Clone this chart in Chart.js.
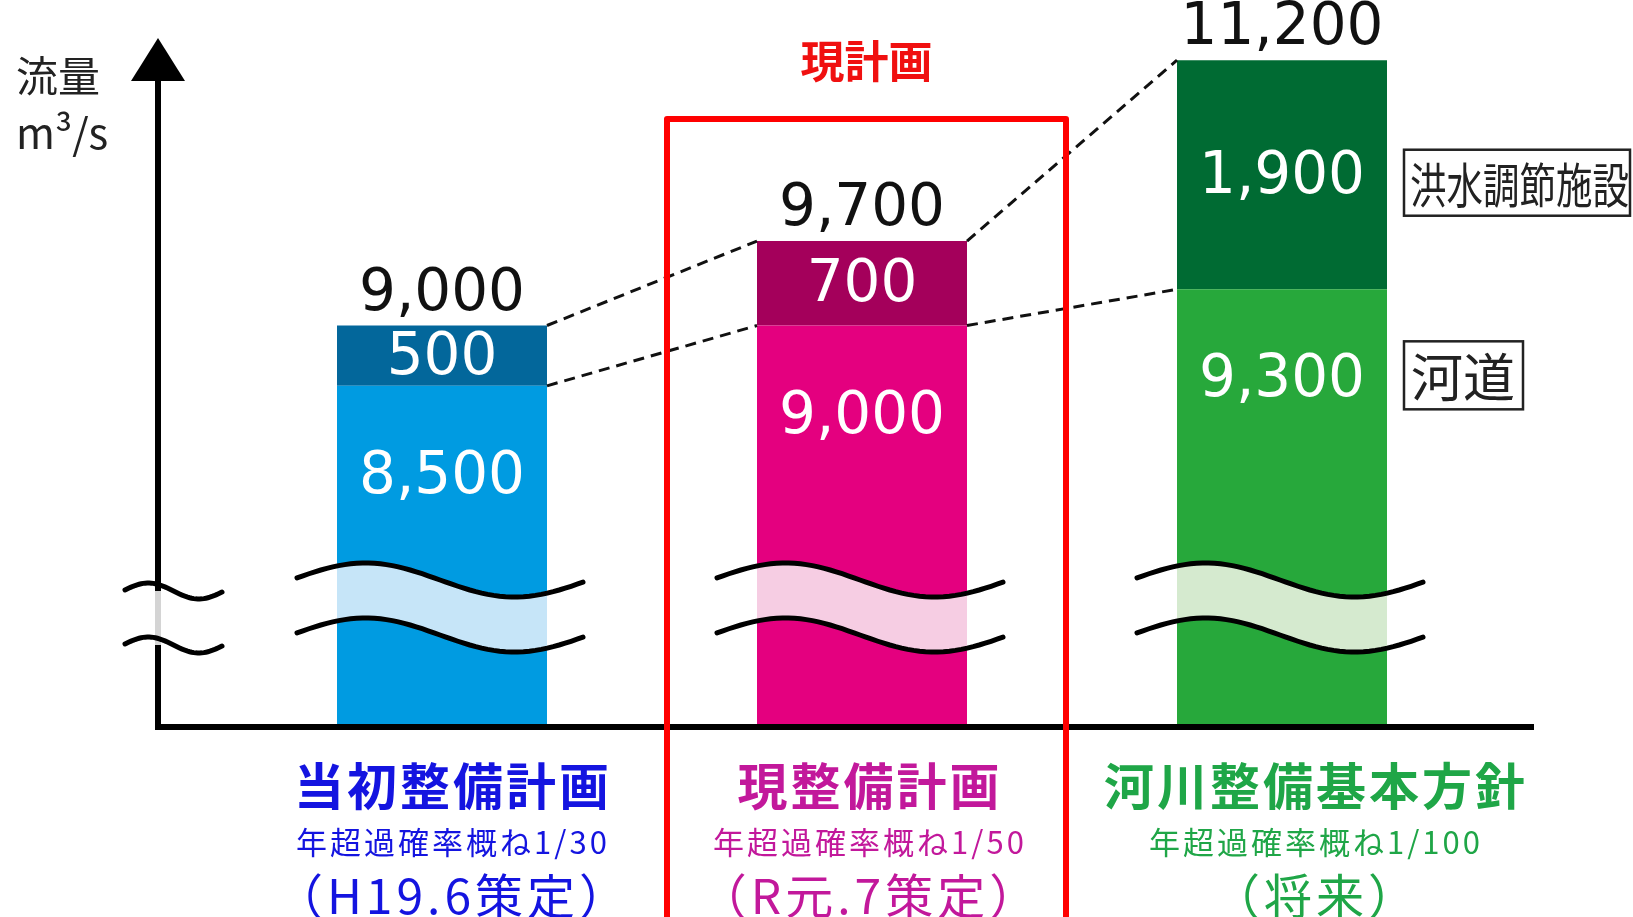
<!DOCTYPE html>
<html lang="ja">
<head>
<meta charset="utf-8">
<title>流量配分図</title>
<script src="https://cdn.jsdelivr.net/npm/chart.js@4.4.0/dist/chart.umd.min.js"></script>
<style>
    html, body { margin: 0; padding: 0; background: #fff; }
    #wrap { width: 1633px; height: 917px; }
</style>
</head>
<body>
<div id="wrap"><canvas id="grafico" width="1633" height="917"></canvas></div>
<script>
// 横軸の区分
const plans = ['当初整備計画', '現整備計画', '河川整備基本方針'];
const probTexts = ['年超過確率概ね1/30', '年超過確率概ね1/50', '年超過確率概ね1/100'];
const dateTexts = ['（H19.6策定）', '（R元.7策定）', '（将来）'];

// 流量 (m3/s)
const channelFlow = [8500, 9000, 9300];   // 河道
const facilityFlow = [500, 700, 1900];    // 洪水調節施設

// 縦軸の範囲 (下側は波線で省略)
const yMin = 5680;
const yMax = 11400;

// 色
const channelColors = ['#009be1', '#e4007f', '#27a83b'];
const facilityColors = ['#03679b', '#a4005b', '#006b33'];
const breakColors = ['#c6e5f8', '#f6cde3', '#d5eacf'];
const planColors = ['#1414e0', '#c2189b', '#1fa647'];
const labelShift = [11, 8, 34];

const numFont = '58px "DejaVu Sans"';
const jpFont = '"Noto Sans CJK JP"';

function fmt(v) {
    return v.toLocaleString('en-US');
}

// 波線の点列
function wavePts(x0, x1, mid, amp) {
    var pts = [];
    for (var k = 0; k <= 48; k++) {
        var t = k / 48;
        pts.push([x0 + (x1 - x0) * t, mid - amp * Math.sin(2 * Math.PI * (0.02 + 0.96 * t))]);
    }
    return pts;
}

function strokePts(ctx, pts) {
    ctx.beginPath();
    pts.forEach((p, k) => k == 0 ? ctx.moveTo(p[0], p[1]) : ctx.lineTo(p[0], p[1]));
    ctx.stroke();
}

function line(ctx, x0, y0, x1, y1) {
    ctx.beginPath();
    ctx.moveTo(x0, y0);
    ctx.lineTo(x1, y1);
    ctx.stroke();
}

const decoPlugin = {
    id: 'deco',
    beforeDraw(chart) {
        const ctx = chart.ctx;
        ctx.save();
        ctx.fillStyle = '#fff';
        ctx.fillRect(0, 0, chart.width, chart.height);
        ctx.restore();
    },
    afterDatasetsDraw(chart) {
        const ctx = chart.ctx;
        const area = chart.chartArea;
        const low = chart.getDatasetMeta(0).data;
        const up = chart.getDatasetMeta(1).data;
        const axisX = area.left - 74;

        ctx.save();

        // 棒の省略部分
        low.forEach((bar, i) => {
            const p1 = wavePts(bar.x - 145, bar.x + 141, area.bottom - 146, 17);
            const p2 = wavePts(bar.x - 145, bar.x + 141, area.bottom - 91, 17);
            ctx.save();
            ctx.beginPath();
            ctx.rect(bar.x - bar.width / 2, area.top, bar.width, area.bottom - area.top);
            ctx.clip();
            ctx.beginPath();
            p1.forEach((p, k) => k == 0 ? ctx.moveTo(p[0], p[1]) : ctx.lineTo(p[0], p[1]));
            p2.slice().reverse().forEach(p => ctx.lineTo(p[0], p[1]));
            ctx.closePath();
            ctx.fillStyle = breakColors[i];
            ctx.fill();
            ctx.restore();

            ctx.strokeStyle = '#000';
            ctx.lineWidth = 5;
            ctx.lineCap = 'round';
            strokePts(ctx, p1);
            strokePts(ctx, p2);
        });

        // 棒をつなぐ点線
        ctx.strokeStyle = '#111';
        ctx.lineWidth = 3;
        ctx.lineCap = 'butt';
        ctx.setLineDash([11, 7]);
        for (var i = 0; i < up.length - 1; i++) {
            const a = up[i], b = up[i + 1];
            line(ctx, a.x + a.width / 2, a.y, b.x - b.width / 2, b.y);
            line(ctx, a.x + a.width / 2, a.base, b.x - b.width / 2, b.base);
        }
        ctx.setLineDash([]);

        // 軸
        const brk1 = area.bottom - 135, brk2 = area.bottom - 81;
        ctx.lineWidth = 6;
        ctx.strokeStyle = '#000';
        line(ctx, axisX, area.top + 40, axisX, brk1);
        line(ctx, axisX, brk2, axisX, area.bottom + 4);
        ctx.strokeStyle = '#d4d4d4';
        line(ctx, axisX, brk1, axisX, brk2);
        ctx.strokeStyle = '#000';
        line(ctx, axisX - 3, area.bottom + 1, area.right + 42, area.bottom + 1);

        ctx.fillStyle = '#000';
        ctx.beginPath();
        ctx.moveTo(axisX, area.top + 2);
        ctx.lineTo(axisX - 27, area.top + 45);
        ctx.lineTo(axisX + 27, area.top + 45);
        ctx.closePath();
        ctx.fill();

        ctx.lineWidth = 5;
        ctx.lineCap = 'round';
        strokePts(ctx, wavePts(axisX - 33, axisX + 64, brk1, 8));
        strokePts(ctx, wavePts(axisX - 33, axisX + 64, brk2, 8));

        // 単位
        ctx.fillStyle = '#222';
        ctx.textAlign = 'left';
        ctx.textBaseline = 'middle';
        ctx.font = '42px ' + jpFont;
        ctx.fillText('流量', 16, 76);
        ctx.fillText('m³/s', 16, 133);

        // 数値ラベル
        ctx.textAlign = 'center';
        ctx.font = numFont;
        up.forEach((bar, i) => {
            ctx.fillStyle = '#111';
            ctx.textBaseline = 'alphabetic';
            ctx.fillText(fmt(channelFlow[i] + facilityFlow[i]), bar.x, bar.y - 16);

            ctx.fillStyle = '#fff';
            ctx.textBaseline = 'middle';
            ctx.fillText(fmt(facilityFlow[i]), bar.x, (bar.y + bar.base) / 2 + 3);
            ctx.fillText(fmt(channelFlow[i]), bar.x, low[i].y + 92);
        });

        // 右側の凡例 (枠付き)
        const last = up.length - 1;
        const lx = up[last].x + up[last].width / 2 + 17;
        ctx.strokeStyle = '#222';
        ctx.lineWidth = 2.5;
        ctx.fillStyle = '#222';
        ctx.textAlign = 'left';
        ctx.textBaseline = 'middle';

        const yTop = (up[last].y + up[last].base) / 2 + 8;
        ctx.strokeRect(lx, yTop - 33, 226, 66);
        ctx.save();
        ctx.translate(lx + 6, yTop + 2);
        ctx.scale(0.76, 1);
        ctx.font = '48px ' + jpFont;
        ctx.fillText(chart.data.datasets[1].label, 0, 0);
        ctx.restore();

        const yLow = low[last].y + 86;
        ctx.strokeRect(lx, yLow - 34, 119, 68);
        ctx.font = '52px ' + jpFont;
        ctx.fillText(chart.data.datasets[0].label, lx + 7, yLow + 2);

        // 現計画の枠
        const cur = up[1];
        const fl = cur.x - 195, fr = cur.x + 204;
        ctx.strokeStyle = '#ff0000';
        ctx.lineWidth = 6;
        ctx.lineJoin = 'round';
        ctx.strokeRect(fl, area.top + 83, fr - fl, chart.height);
        ctx.fillStyle = '#f01010';
        ctx.textAlign = 'center';
        ctx.font = 'bold 44px ' + jpFont;
        ctx.fillText('現計画', (fl + fr) / 2, 61);

        // 横軸の区分名
        low.forEach((bar, i) => {
            const cx = bar.x + labelShift[i];
            ctx.fillStyle = planColors[i];
            ctx.letterSpacing = '3px';
            ctx.font = 'bold 50px ' + jpFont;
            ctx.fillText(plans[i], cx, area.bottom + 60);
            ctx.letterSpacing = '3px';
            ctx.font = '31px ' + jpFont;
            ctx.fillText(probTexts[i], cx, area.bottom + 116);
            ctx.letterSpacing = '4px';
            ctx.font = '48px ' + jpFont;
            ctx.fillText(dateTexts[i], cx, area.bottom + 170);
        });
        ctx.letterSpacing = '0px';

        ctx.restore();
    }
};

new Chart(document.getElementById('grafico'), {
    type: 'bar',
    data: {
        labels: plans,
        datasets: [
            {
                label: '河道',
                data: channelFlow,
                backgroundColor: channelColors,
                clip: 0
            },
            {
                label: '洪水調節施設',
                data: facilityFlow,
                backgroundColor: facilityColors,
                clip: 0
            }
        ]
    },
    options: {
        responsive: false,
        animation: false,
        layout: {
            padding: { left: 232, right: 141, top: 36, bottom: 191 }
        },
        datasets: {
            bar: { barPercentage: 0.5, categoryPercentage: 1 }
        },
        plugins: {
            legend: { display: false },
            tooltip: { enabled: false }
        },
        scales: {
            x: { stacked: true, display: false },
            y: { stacked: true, display: false, min: yMin, max: yMax }
        }
    },
    plugins: [decoPlugin]
});
</script>
</body>
</html>
